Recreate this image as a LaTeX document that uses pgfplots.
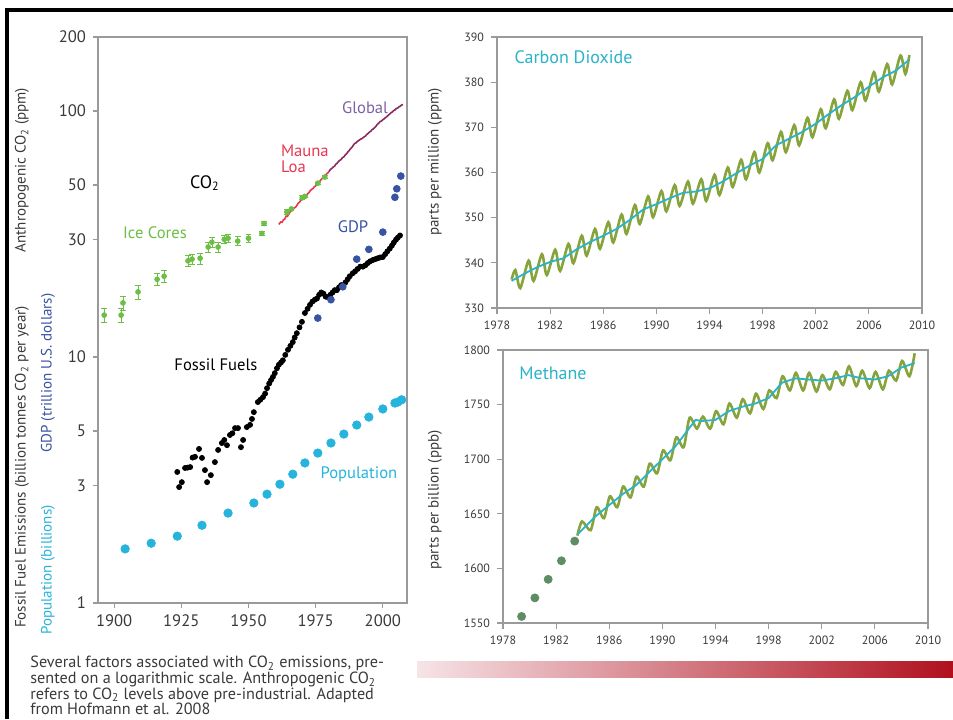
\documentclass[border=0pt]{standalone}
\usepackage{pgfplots}
\pgfplotsset{compat=1.18}
\usepackage{fontspec}
\setmainfont{PT Sans}

\definecolor{icegreen}{HTML}{6DBE45}
\definecolor{maunared}{HTML}{E8384F}
\definecolor{globalline}{HTML}{8C2B5E}
\definecolor{globaltext}{HTML}{7D62A8}
\definecolor{gdpblue}{HTML}{3953A4}
\definecolor{popcyan}{HTML}{27B4DC}
\definecolor{seasgreen}{HTML}{86A33C}
\definecolor{trendcyan}{HTML}{2AB3C9}
\definecolor{ch4dot}{HTML}{5E8C64}
\definecolor{ticktext}{HTML}{3A3A3A}
\definecolor{framegray}{HTML}{9A9A9A}
\definecolor{barlight}{HTML}{F6E4E7}
\definecolor{barmid}{HTML}{D9808F}
\definecolor{bardark}{HTML}{B0101E}

\pgfplotsset{
  panel/.style={
    scale only axis, anchor=south west, clip=false,
    axis line style={framegray, line width=0.6pt},
    tick style={framegray, line width=0.6pt},
    tick align=outside, tick pos=left,
    yminorticks=false, xminorticks=false,
    tick label style={text=ticktext},
    /pgf/number format/assume math mode=true,
    /pgf/number format/1000 sep={},
  },
}

\begin{document}
\begin{tikzpicture}
\useasboundingbox (0,0) rectangle (476.5pt,359.5pt);
\fill[white] (0,0) rectangle (476.5pt,359.5pt);
\draw[line width=1.8pt] (3.5pt,0) -- (3.5pt,354.5pt) -- (476.5pt,354.5pt);

% left panel: log scale
\begin{axis}[panel,
  at={(49pt,58pt)}, width=154.5pt, height=283pt,
  ymode=log, xmin=1894, xmax=2009, ymin=1, ymax=200,
  xtick={1900,1925,1950,1975,2000},
  ytick={1,3,5,10,30,50,100,200},
  yticklabels={1,3,5,10,30,50,100,200},
  major tick length=2.5pt,
  tick label style={font=\fontsize{8.3}{9}\selectfont},
]
% population
\addplot[only marks, mark=*, mark size=2.1pt, color=popcyan] coordinates {
(1904.1,1.66)(1913.8,1.75)(1923.5,1.87)(1932.7,2.07)(1942.4,2.32)(1952.0,2.55)
(1956.9,2.77)(1961.7,3.04)(1966.5,3.34)(1971.0,3.71)(1975.8,4.07)(1980.7,4.47)
(1985.5,4.86)(1990.3,5.29)(1994.8,5.70)(2000.0,6.15)(2004.5,6.50)(2005.6,6.56)(2007.0,6.70)
};
% fossil fuels
\addplot[only marks, mark=*, mark size=1.25pt, color=black] coordinates {
(1923.5,3.41)(1924.2,2.96)(1925.2,3.10)(1926.4,3.54)(1927.3,3.55)(1928.3,3.57)
(1929.2,3.90)(1930.1,3.93)(1931.6,4.23)(1932.7,3.89)(1933.8,3.47)(1934.6,3.10)
(1936.0,3.31)(1937.5,3.74)(1938.7,4.19)(1940.1,4.47)(1941.0,4.60)(1942.0,4.38)
(1943.1,4.82)(1944.0,4.90)(1945.0,5.14)(1946.1,5.14)(1947.2,4.30)(1948.0,4.60)
(1949.4,5.19)(1950.6,5.30)(1951.3,5.60)(1952.0,5.97)(1953.5,6.56)(1954.4,6.70)
(1955.4,6.87)(1956.2,7.10)(1956.9,7.47)(1957.7,7.80)(1958.4,8.06)(1959.1,8.30)
(1959.8,8.60)(1960.6,9.00)(1961.3,9.30)(1962.1,9.50)(1962.8,9.70)(1963.7,10.2)
(1964.7,10.7)(1965.6,11.1)(1966.5,11.5)(1967.2,12.0)(1968.0,12.5)(1969.0,13.2)
(1969.9,13.9)(1971.0,15.1)(1972.0,15.7)(1972.9,16.3)(1973.8,16.8)(1974.7,17.1)
(1975.5,17.3)(1976.3,17.9)(1977.1,18.3)(1977.9,18.1)(1978.7,17.6)(1979.6,17.5)
(1980.5,17.9)(1981.3,18.3)(1982.1,18.7)(1982.9,18.7)(1983.7,19.2)(1984.5,19.6)
(1985.3,19.6)(1986.1,20.1)(1986.9,20.7)(1987.7,21.3)(1988.8,21.9)(1989.7,22.3)
(1990.6,22.8)(1991.6,23.3)(1992.6,23.3)(1993.5,23.6)(1994.4,24.1)(1995.3,24.5)
(1996.3,24.8)(1997.2,25.0)(1998.1,25.2)(1999.0,25.4)(2000.0,25.5)(2000.9,26.2)
(2001.7,26.9)(2002.6,27.6)(2003.4,28.4)(2004.1,29.2)(2004.9,30.0)(2005.6,30.6)(2006.4,31.2)
};
% GDP
\addplot[only marks, mark=*, mark size=1.7pt, color=gdpblue] coordinates {
(1975.8,14.4)(1980.7,17.1)(1985.1,19.3)(1990.3,25.0)(1994.8,27.4)(2000.0,32.2)
(2004.5,44.6)(2005.2,48.3)(2006.7,54.4)
};
% Mauna Loa
\addplot[color=maunared, line width=0.8pt] coordinates {
(1961.3,34.6)(1962,35.4)(1962.5,35.3)(1963,36.1)(1963.5,36.4)(1964,37.4)(1964.5,37.3)
(1965,38.1)(1965.5,38.9)(1966,39.3)(1966.5,39.6)(1967,40.4)(1967.5,40.6)(1968,41.3)
(1968.5,42.2)(1969,42.6)(1969.5,43.4)(1970,43.7)(1970.5,44.3)(1971,44.6)(1971.5,45.5)
(1972,46.0)(1972.5,46.6)(1973,47.5)(1973.5,48.0)(1974,48.4)(1974.5,49.2)(1975,49.6)
(1975.5,50.4)(1976,50.8)(1976.5,51.7)(1977,52.6)(1977.5,53.2)(1978,54.1)(1978.5,54.6)
(1979,55.4)(1979.5,56.0)(1980,56.8)
};
% Global
\addplot[color=globalline, line width=0.8pt] coordinates {
(1980,56.8)(1980.5,57.9)(1981,58.4)(1981.5,59.2)(1982,59.6)(1982.5,60.8)(1983,61.3)
(1983.5,62.4)(1984,63.0)(1984.5,63.6)(1985,64.7)(1985.5,65.1)(1986,66.3)(1986.5,67.0)
(1987,68.2)(1987.5,69.1)(1988,70.4)(1988.5,71.2)(1989,72.5)(1989.5,73.8)(1990,74.2)
(1990.5,75.3)(1991,75.8)(1991.5,76.6)(1992,77.1)(1992.5,77.6)(1993,78.5)(1993.5,79.1)
(1994,80.2)(1994.5,81.0)(1995,82.1)(1995.5,82.7)(1996,84.0)(1996.5,84.6)(1997,85.8)
(1997.5,86.9)(1998,88.4)(1998.5,89.3)(1999,90.6)(1999.5,91.1)(2000,92.2)(2000.5,93.0)
(2001,94.1)(2001.5,94.8)(2002,96.2)(2002.5,97.1)(2003,98.4)(2003.5,99.0)(2004,100.3)
(2004.5,101.0)(2005,102.3)(2005.5,102.8)(2006,104.0)(2006.5,104.6)(2007,105.8)(2007.5,106.3)
};
% ice cores
\addplot[only marks, mark=*, mark size=1.2pt, color=icegreen,
  error bars/.cd, y dir=both, y explicit,
  error bar style={icegreen, line width=0.4pt},
  error mark options={rotate=90, mark size=1.4pt, icegreen}] coordinates {
(1896.3,14.8) +- (0,1.0) (1902.6,14.8) +- (0,1.0) (1903.3,16.6) +- (0,1.1)
(1908.9,18.4) +- (0,1.2) (1916.0,20.7) +- (0,1.2) (1918.6,21.3) +- (0,1.2)
(1927.5,24.6) +- (0,1.2) (1929.0,25.0) +- (0,1.2) (1932.0,25.2) +- (0,1.3)
(1935.0,28.0) +- (0,1.3) (1936.4,29.3) +- (0,1.3) (1938.7,28.0) +- (0,1.3)
(1941.0,30.1) +- (0,1.2) (1942.4,30.4) +- (0,1.2) (1946.0,29.6) +- (0,1.2)
(1950.0,30.4) +- (0,1.2) (1955.0,31.8) +- (0,0.6) (1955.8,34.9) +- (0,0.6)
(1964.3,38.9) +- (0,0.8) (1966.0,40.0) +- (0,0.6) (1970.0,44.4) +- (0,0.8)
(1971.0,45.0) +- (0,0.6) (1975.8,50.9) +- (0,0.6) (1978.4,53.9) +- (0,0.6)
};
\node[text=globaltext, font=\fontsize{8.3}{9}\selectfont] at (axis cs:1993.4,103) {Global};
\node[text=maunared, font=\fontsize{8.3}{8}\selectfont, align=left, anchor=west] at (axis cs:1959.5,63.8) {Mauna\\Loa};
\node[text=black, font=\fontsize{9}{10}\selectfont] at (axis cs:1933.8,51) {CO\textsubscript{2}};
\node[text=icegreen, font=\fontsize{8.3}{9}\selectfont] at (axis cs:1915.2,31.9) {Ice Cores};
\node[text=gdpblue, font=\fontsize{8.3}{9}\selectfont] at (axis cs:1988.9,33.8) {GDP};
\node[text=black, font=\fontsize{8.3}{9}\selectfont] at (axis cs:1937.9,9.28) {Fossil Fuels};
\node[text=popcyan, font=\fontsize{8.3}{9}\selectfont] at (axis cs:1991.1,3.35) {Population};
\end{axis}

% top right: carbon dioxide
\begin{axis}[panel,
  at={(248.5pt,205.5pt)}, width=212.5pt, height=135.5pt,
  xmin=1978, xmax=2010, ymin=330, ymax=390,
  xtick={1978,1982,...,2010}, ytick={330,340,...,390},
  major tick length=3pt,
  tick label style={font=\fontsize{6}{7}\selectfont},
]
\addplot[color=seasgreen, line width=1.3pt, smooth, tension=0.45] coordinates {
(1979.10,336.3)(1979.38,338.4)(1979.75,334.4)(1980.38,340.5)(1980.75,336.0)
(1981.38,341.9)(1981.75,337.3)(1982.38,342.9)(1982.75,338.2)(1983.38,344.2)(1983.75,339.9)
(1984.38,346.0)(1984.75,341.6)(1985.38,347.5)(1985.75,343.1)(1986.38,349.0)(1986.75,344.5)
(1987.38,350.7)(1987.75,346.4)(1988.38,352.8)(1988.75,348.6)(1989.38,354.7)(1989.75,350.1)
(1990.38,355.9)(1990.75,351.4)(1991.38,357.2)(1991.75,352.6)(1992.38,358.0)(1992.75,353.1)
(1993.38,358.5)(1993.75,353.7)(1994.38,359.5)(1994.75,355.0)(1995.38,361.1)(1995.75,356.8)
(1996.38,362.8)(1996.75,358.5)(1997.38,364.5)(1997.75,360.0)(1998.38,366.5)(1998.75,362.7)
(1999.38,369.0)(1999.75,364.5)(2000.38,370.5)(2000.75,366.0)(2001.38,372.1)(2001.75,367.8)
(2002.38,374.0)(2002.75,369.8)(2003.38,376.2)(2003.75,371.9)(2004.38,378.1)(2004.75,373.8)
(2005.38,380.0)(2005.75,375.9)(2006.38,382.2)(2006.75,377.9)(2007.38,384.0)(2007.75,379.5)
(2008.38,385.9)(2008.75,381.8)(2009.05,386.0)
};
\addplot[color=trendcyan, line width=0.9pt] coordinates {
(1979.1,336.0)(1980,337.5)(1981,339.0)(1982,340.2)(1983,341.0)(1984,343.0)(1985,344.6)
(1986,346.0)(1987,347.5)(1988,349.5)(1989,351.8)(1990,353.0)(1991,354.3)(1992,355.5)
(1993,355.8)(1994,356.5)(1995,358.0)(1996,359.8)(1997,361.5)(1998,363.0)(1999,366.0)
(2000,367.5)(2001,369.0)(2002,370.8)(2003,373.0)(2004,375.0)(2005,376.8)(2006,379.0)
(2007,381.0)(2008,382.5)(2009.05,385.0)
};
\node[anchor=west, text=trendcyan, font=\fontsize{9}{10}\selectfont] at (axis cs:1978.8,385.6) {Carbon Dioxide};
\end{axis}

% bottom right: methane
\begin{axis}[panel,
  at={(251.5pt,48pt)}, width=212.5pt, height=136.5pt,
  xmin=1978, xmax=2010, ymin=1550, ymax=1800,
  xtick={1978,1982,...,2010}, ytick={1550,1600,...,1800},
  major tick length=3pt,
  tick label style={font=\fontsize{6}{7}\selectfont},
]
\addplot[only marks, mark=*, mark size=2pt, color=ch4dot] coordinates {
(1979.4,1556)(1980.4,1573)(1981.4,1590)(1982.4,1607)(1983.4,1625)
};
\addplot[color=seasgreen, line width=1.3pt, smooth, tension=0.45] coordinates {
(1983.6,1630)(1983.95,1643)(1984.6,1635)(1985.05,1656)(1985.6,1646)(1986.05,1666)(1986.6,1656)
(1987.05,1675)(1987.6,1665)(1988.05,1684)(1988.6,1675)(1989.05,1696)(1989.6,1687)
(1990.05,1708)(1990.6,1699)(1991.05,1720)(1991.6,1711)(1992.05,1738)(1992.6,1728)
(1993.05,1739)(1993.6,1728)(1994.05,1744)(1994.6,1732)(1995.05,1751)(1995.6,1738)
(1996.05,1755)(1996.6,1742)(1997.05,1760)(1997.6,1746)(1998.05,1763)(1998.6,1756)
(1999.05,1776)(1999.6,1763)(2000.05,1779)(2000.6,1763)(2001.05,1779)(2001.6,1762)
(2002.05,1777)(2002.6,1764)(2003.05,1780)(2003.6,1768)(2004.05,1785)(2004.6,1767)
(2005.05,1781)(2005.6,1765)(2006.05,1780)(2006.6,1764)(2007.05,1781)(2007.6,1772)
(2008.05,1790)(2008.6,1776)(2009.0,1797)
};
\addplot[color=trendcyan, line width=0.9pt] coordinates {
(1983.6,1631)(1984,1636)(1985,1648)(1986,1658)(1987,1668)(1988,1676)(1989,1688)
(1990,1700)(1991,1712)(1992,1728)(1992.5,1736)(1993,1735)(1994,1736)(1995,1744)
(1996,1748)(1997,1751)(1998,1756)(1999,1770)(2000,1774)(2001,1773)(2002,1772)
(2003,1774)(2004,1777)(2005,1774)(2006,1773)(2007,1776)(2008,1784)(2009,1788)
};
\node[anchor=west, text=trendcyan, font=\fontsize{9}{10}\selectfont] at (axis cs:1978.7,1779) {Methane};
\end{axis}

% axis titles
\begin{scope}[every node/.style={rotate=90, font=\fontsize{7.5}{9}\selectfont}]
\node[text=ticktext] at (11pt,274.5pt) {Anthropogenic CO\textsubscript{2} (ppm)};
\node[text=ticktext] at (11pt,126pt) {Fossil Fuel Emissions (billion tonnes CO\textsubscript{2} per year)};
\node[text=gdpblue] at (24pt,173pt) {GDP (trillion U.S. dollars)};
\node[text=popcyan] at (24pt,74.5pt) {Population (billions)};
\node[text=ticktext] at (217.5pt,278.5pt) {parts per million (ppm)};
\node[text=ticktext] at (217.5pt,109.5pt) {parts per billion (ppb)};
\end{scope}

% caption and colour bar
\node[anchor=north west, align=left, inner sep=0pt, text=ticktext,
  font=\fontsize{8.1}{7.8}\selectfont] at (15pt,31.5pt)
  {Several factors associated with CO\textsubscript{2} emissions, pre-\\
   sented on a logarithmic scale. Anthropogenic CO\textsubscript{2}\\
   refers to CO\textsubscript{2} levels above pre-industrial. Adapted\\
   from Hofmann et al. 2008};
\shade[left color=barlight, middle color=barmid, right color=bardark]
  (208.5pt,21pt) rectangle (476.5pt,29pt);
\end{tikzpicture}
\end{document}
